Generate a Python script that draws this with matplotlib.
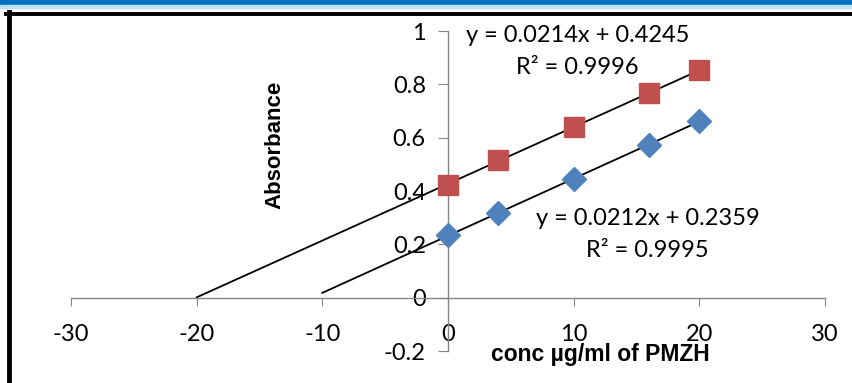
import numpy as np
import matplotlib.pyplot as plt
from matplotlib.lines import Line2D
from matplotlib.patches import Rectangle

plt.rcParams['font.family'] = ['Lato', 'DejaVu Sans']

# data
conc = [0, 4, 10, 16, 20]
abs_blue = [0.235, 0.316, 0.445, 0.572, 0.664]
abs_red = [0.424, 0.516, 0.640, 0.766, 0.853]
eq_blue = ["y = 0.0212x + 0.2359", "R² = 0.9995"]
eq_red = ["y = 0.0214x + 0.4245", "R² = 0.9996"]
xticks = [-30, -20, -10, 0, 10, 20, 30]
yticks = [-0.2, 0, 0.2, 0.4, 0.6, 0.8, 1]

W, H = 853, 383
fig = plt.figure(figsize=(W / 100, H / 100), dpi=100)
ax = fig.add_axes([71 / W, 1 - 351 / H, (825 - 71) / W, (351 - 31) / H])

axis_col = '#868686'

# trendlines with backward forecast
for y, back in [(abs_blue, 10), (abs_red, 20)]:
    m, b = np.polyfit(conc, y, 1)
    xs = np.array([min(conc) - back, max(conc)])
    ax.plot(xs, m * xs + b, color='black', lw=1.3, zorder=2)

ax.plot(conc, abs_blue, 'D', color='#4F81BD', ms=12, mec='#4F81BD', zorder=3, clip_on=False)
ax.plot(conc, abs_red, 's', color='#C0504D', ms=14, mec='#C0504D', zorder=3, clip_on=False)

ax.set_xlim(-30, 30)
ax.set_ylim(-0.2, 1)
ax.spines['left'].set_position(('data', 0))
ax.spines['bottom'].set_position(('data', 0))
for s in ['top', 'right']:
    ax.spines[s].set_visible(False)
for s in ['left', 'bottom']:
    ax.spines[s].set_color(axis_col)
    ax.spines[s].set_linewidth(1)

ax.set_xticks(xticks)
ax.set_xticklabels([str(t) for t in xticks])
ax.set_yticks(yticks)
ax.set_yticklabels(['-0.2', '0', '0.2', '0.4', '0.6', '0.8', '1'])
ax.tick_params(axis='x', direction='out', length=6, color=axis_col, pad=13, labelsize=17)
ax.tick_params(axis='y', direction='out', length=7, color=axis_col, pad=9, labelsize=17)

fs = 17
ax.text(10.3, 0.982, eq_red[0], ha='center', va='center', fontsize=fs)
ax.text(10.3, 0.862, eq_red[1], ha='center', va='center', fontsize=fs)
ax.text(15.9, 0.296, eq_blue[0], ha='center', va='center', fontsize=fs)
ax.text(15.9, 0.176, eq_blue[1], ha='center', va='center', fontsize=fs)

lab_font = ['Liberation Sans', 'DejaVu Sans']
fig.text(275 / W, 1 - 145 / H, 'Absorbance', rotation=90, ha='center', va='center',
         fontsize=16, fontweight='bold', family=lab_font)
fig.text(600 / W, 1 - 355 / H, 'conc µg/ml of PMZH', ha='center', va='center',
         fontsize=16.5, fontweight='bold', family=lab_font)

# page decoration: blue strip and black frame
fig.patches.append(Rectangle((0, 1 - 5 / H), 1, 5 / H, transform=fig.transFigure,
                             color='#0070C0', zorder=0))
fig.patches.append(Rectangle((0, 1 - 8 / H), 1, 3 / H, transform=fig.transFigure,
                             color='#BFDFF5', zorder=0))
fig.lines.append(Line2D([6 / W, 1], [1 - 13.5 / H] * 2, transform=fig.transFigure,
                        color='black', lw=2.8))
fig.lines.append(Line2D([8.5 / W] * 2, [0, 1 - 12 / H], transform=fig.transFigure,
                        color='black', lw=3.5))

fig.savefig('out.png', dpi=100)
